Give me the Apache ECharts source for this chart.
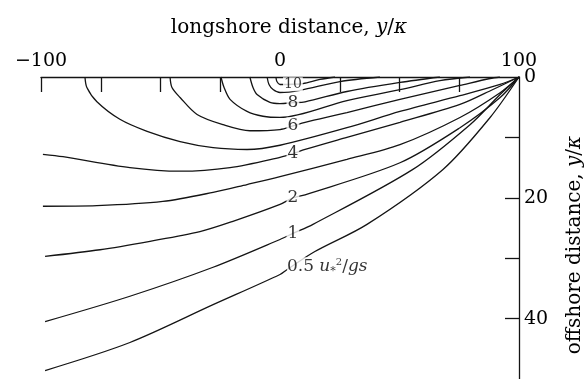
<!DOCTYPE html>
<html>
<head>
<meta charset="utf-8">
<script src="https://cdn.jsdelivr.net/npm/echarts@6/dist/echarts.min.js"></script>
<style>
  html, body { margin: 0; padding: 0; background: #fff; }
  #chart { width: 587px; height: 379px; }
</style>
</head>
<body>
<div id="chart"></div>
<script>
// Longshore (x) and offshore (y) distances, both scaled by kappa.
// Each contour is a list of [longshore, offshore] points.
const c10 = [[-1.7, 0], [-1.3, 0.75], [0, 1.24], [5.4, 1.2], [9.6, 1.08], [16.7, 0.41], [23, 0]];
const c9  = [[-5.4, 0], [-4.6, 1.24], [-2.9, 2.07], [0, 2.57], [8.4, 2.2], [25.1, 0.75], [41.8, 0]];
const c8  = [[-12.6, 0], [-11.3, 1.74], [-9.6, 2.9], [-4.2, 4.2], [0, 4.4], [5.4, 4.25], [10.5, 4.1], [28, 2.4], [50.2, 0.9], [66.9, 0]];
const c7  = [[-24.7, 0], [-23.4, 1.74], [-20.9, 3.7], [-13.8, 5.7], [-7.1, 6.5], [0, 6.7], [28, 3.9], [50.2, 2.1], [66.9, 0.6], [79.5, 0]];
const c6  = [[-46, 0], [-45.2, 1.74], [-41.8, 3.4], [-34.7, 6.2], [-23.8, 7.9], [-12.6, 8.9], [0, 8.7], [5.4, 8.1], [10.5, 7.5], [28, 5.9], [50.2, 3.7], [75.3, 1.4], [87.9, 0.25], [92, 0]];
const c5  = [[-81.6, 0], [-80.8, 1.74], [-76.6, 4.1], [-67, 7.0], [-55.6, 9.0], [-41.8, 10.7], [-28, 11.7], [-13.8, 12.0], [0, 11.3], [28, 8.4], [50.2, 5.7], [75.3, 3.1], [92.1, 1.24], [100, 0]];
const c4  = [[-99.2, 12.8], [-90.8, 13.2], [-62.8, 15.0], [-41.8, 15.6], [-20.9, 15.0], [0, 13.3], [5.4, 12.7], [10.5, 12.0], [28, 10.0], [50.2, 7.5], [75.3, 4.55], [89.1, 2.07], [100, 0]];
const c3  = [[-99.2, 21.4], [-76.6, 21.3], [-49, 20.6], [-28, 19.1], [-13.8, 17.8], [0, 16.5], [28, 13.65], [50.2, 11.2], [75.3, 6.7], [92.1, 2.6], [100, 0]];
const c2  = [[-98.3, 29.7], [-75.3, 28.6], [-54.4, 27.2], [-33.5, 25.6], [-19.7, 23.9], [0, 21.1], [5.4, 20.0], [10.5, 19.5], [50.2, 14.2], [75.3, 8.4], [92.1, 3.4], [100, 0]];
const c1  = [[-98.3, 40.5], [-62.8, 36.3], [-28.0, 31.5], [0, 26.9], [5.4, 25.9], [13.8, 24.4], [55.6, 15.3], [79.5, 7.9], [92.1, 2.9], [100, 0]];
const c05 = [[-98.3, 48.6], [-62.8, 43.96], [-28.0, 37.7], [0, 32.7], [2.9, 31.9], [14.6, 28.9], [36.4, 24.4], [68.2, 15.3], [87.9, 6.7], [100, 0]];

const contours = [c10, c9, c8, c7, c6, c5, c4, c3, c2, c1, c05];

// Labelled contours: level text and the index of the point on the line where it sits.
const labelNames   = ['10', '8', '6', '4', '2', '1', '0.5'];
const labelLines   = [c10, c8, c6, c4, c2, c1, c05];
const labelIndex   = [3, 5, 7, 6, 6, 4, 4];

const xTickValues  = [-100, -75, -50, -25, 25, 50, 75];
const xLabelValues = [-100, 0, 100];
const yTickValues  = [10, 20, 30, 40];
const yLabelValues = [0, 20, 40];

const FONT = 'DejaVu Serif';
const INK = '#141414';
const TEXT = '#000';

const chart = echarts.init(document.getElementById('chart'), null, { renderer: 'canvas' });

const lineSeries = contours.map(function (pts) {
  return {
    type: 'line',
    data: pts,
    symbol: 'none',
    smooth: 0.3,
    lineStyle: { color: INK, width: 1.3 },
    silent: true,
    z: 2
  };
});

const labelData = labelNames.map(function (name, i) {
  const p = labelLines[i][labelIndex[i]];
  const item = { value: p, name: name };
  if (name === '0.5') {
    // the long label starts at the line and hangs just under it
    item.label = { align: 'left', offset: [0, -3], padding: [0, 0] };
  }
  return item;
});

const labelSeries = {
  type: 'scatter',
  data: labelData,
  symbolSize: 0,
  silent: true,
  z: 5,
  label: {
    show: true,
    position: 'inside',
    fontFamily: FONT,
    fontSize: 17,
    color: TEXT,
    backgroundColor: '#fff',
    padding: [0, 1],
    formatter: function (p) {
      if (p.name === '0.5') {
        return '0.5 {i|u}{sub|*}{sup|2}{n|/}{i|gs}';
      }
      if (p.name === '10') {
        return '{s|10}';
      }
      return p.name;
    },
    rich: {
      i: { fontFamily: FONT, fontStyle: 'italic', fontSize: 17, color: TEXT },
      n: { fontFamily: FONT, fontSize: 17, color: TEXT },
      sub: { fontFamily: FONT, fontSize: 11, color: TEXT, padding: [8, 0, 0, 0] },
      sup: { fontFamily: FONT, fontSize: 10, color: TEXT, padding: [0, 0, 8, 0] },
      s: { fontFamily: FONT, fontSize: 14, color: TEXT }
    }
  }
};

const titleRich = {
  n: { fontFamily: FONT, fontSize: 20, fill: TEXT },
  i: { fontFamily: FONT, fontStyle: 'italic', fontSize: 20, fill: TEXT }
};

chart.setOption({
  animation: false,
  backgroundColor: '#fff',
  grid: { left: 41, top: 77, width: 478, height: 302 },
  xAxis: {
    type: 'value',
    position: 'top',
    min: -100,
    max: 100,
    interval: 25,
    axisLine: { show: true, onZero: false, lineStyle: { color: INK, width: 1.3 } },
    axisTick: { show: true, inside: true, length: 15, customValues: xTickValues, lineStyle: { color: INK, width: 1.3 } },
    axisLabel: {
      customValues: xLabelValues,
      margin: 6,
      fontFamily: FONT,
      fontSize: 19,
      color: TEXT,
      formatter: function (v) { return v < 0 ? '\u2212' + Math.abs(v) : String(v); }
    },
    splitLine: { show: false }
  },
  yAxis: {
    type: 'value',
    position: 'right',
    inverse: true,
    min: 0,
    max: 50,
    interval: 10,
    axisLine: { show: true, onZero: false, lineStyle: { color: INK, width: 1.3 } },
    axisTick: { show: true, inside: true, length: 14, customValues: yTickValues, lineStyle: { color: INK, width: 1.3 } },
    axisLabel: {
      customValues: yLabelValues,
      margin: 5,
      fontFamily: FONT,
      fontSize: 19,
      color: TEXT
    },
    splitLine: { show: false }
  },
  graphic: [
    {
      type: 'text',
      x: 289,
      y: 28,
      style: {
        text: '{n|longshore distance, }{i|y}{n|/}{i|\u03ba}',
        align: 'center',
        verticalAlign: 'middle',
        rich: titleRich
      }
    },
    {
      type: 'text',
      x: 575,
      y: 245,
      rotation: Math.PI / 2,
      style: {
        text: '{n|offshore distance, }{i|y}{n|/}{i|\u03ba}',
        align: 'center',
        verticalAlign: 'middle',
        rich: titleRich
      }
    }
  ],
  series: lineSeries.concat([labelSeries])
});
</script>
</body>
</html>
